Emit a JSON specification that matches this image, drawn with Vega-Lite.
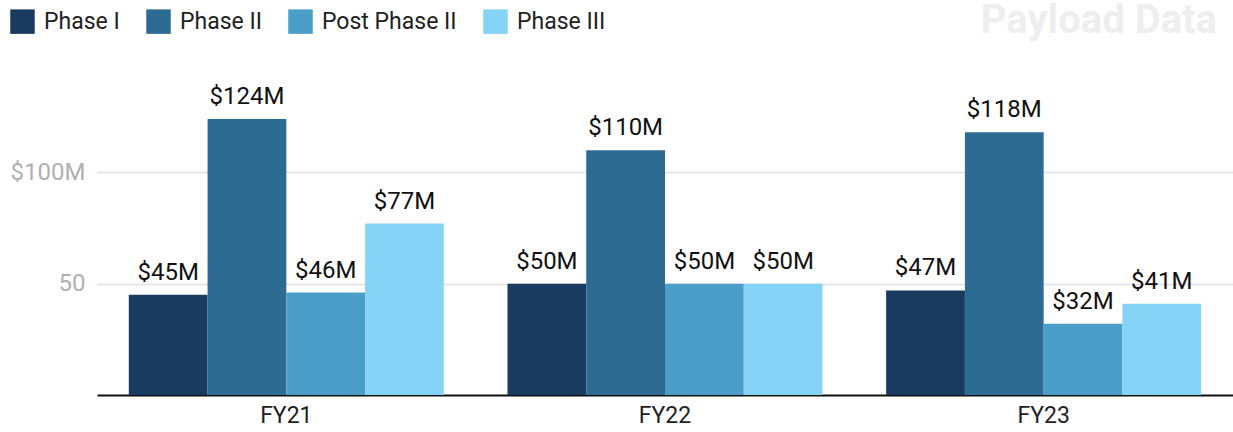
{
  "$schema": "https://vega.github.io/schema/vega-lite/v6.json",
  "autosize": {"type": "none"},
  "width": 1136,
  "height": 325,
  "padding": {"left": 97, "top": 70, "right": 0, "bottom": 37},
  "background": "white",
  "title": {
    "text": "Payload Data",
    "anchor": "end",
    "font": "Roboto",
    "fontSize": 40,
    "fontWeight": "bold",
    "color": "#eeeeee",
    "offset": 0,
    "dy": 32,
    "dx": -16
  },
  "config": {
    "font": "Roboto",
    "view": {"stroke": null}
  },
  "data": {
    "values": [
      {"year": "FY21", "phase": "Phase I", "value": 45, "label": "$45M"},
      {"year": "FY21", "phase": "Phase II", "value": 124, "label": "$124M"},
      {"year": "FY21", "phase": "Post Phase II", "value": 46, "label": "$46M"},
      {"year": "FY21", "phase": "Phase III", "value": 77, "label": "$77M"},
      {"year": "FY22", "phase": "Phase I", "value": 50, "label": "$50M"},
      {"year": "FY22", "phase": "Phase II", "value": 110, "label": "$110M"},
      {"year": "FY22", "phase": "Post Phase II", "value": 50, "label": "$50M"},
      {"year": "FY22", "phase": "Phase III", "value": 50, "label": "$50M"},
      {"year": "FY23", "phase": "Phase I", "value": 47, "label": "$47M"},
      {"year": "FY23", "phase": "Phase II", "value": 118, "label": "$118M"},
      {"year": "FY23", "phase": "Post Phase II", "value": 32, "label": "$32M"},
      {"year": "FY23", "phase": "Phase III", "value": 41, "label": "$41M"}
    ]
  },
  "encoding": {
    "x": {
      "field": "year",
      "type": "nominal",
      "scale": {"paddingInner": 0.168, "paddingOuter": 0.084},
      "axis": {
        "title": null,
        "labelAngle": 0,
        "labelFontSize": 23,
        "labelColor": "#222222",
        "labelPadding": 9,
        "ticks": false,
        "domainColor": "#111111",
        "domainWidth": 2
      }
    },
    "xOffset": {
      "field": "phase",
      "type": "nominal",
      "sort": ["Phase I", "Phase II", "Post Phase II", "Phase III"],
      "scale": {"paddingInner": 0, "paddingOuter": 0}
    },
    "y": {
      "field": "value",
      "type": "quantitative",
      "scale": {"domain": [0, 146], "nice": false},
      "axis": {
        "title": null,
        "values": [50, 100],
        "labelExpr": "datum.value == 100 ? '$100M' : datum.label",
        "labelFontSize": 24,
        "labelColor": "#b0b0b0",
        "labelPadding": 12,
        "ticks": false,
        "domain": false,
        "gridColor": "#e6e6e6",
        "gridWidth": 2
      }
    }
  },
  "layer": [
    {
      "mark": {"type": "bar"},
      "encoding": {
        "color": {
          "field": "phase",
          "type": "nominal",
          "sort": ["Phase I", "Phase II", "Post Phase II", "Phase III"],
          "scale": {
            "domain": ["Phase I", "Phase II", "Post Phase II", "Phase III"],
            "range": ["#1a3b60", "#2e6b93", "#4a9ec8", "#86d3f8"]
          },
          "legend": {
            "title": null,
            "orient": "none",
            "direction": "horizontal",
            "legendX": -87,
            "legendY": -61,
            "symbolType": "square",
            "symbolSize": 600,
            "symbolStrokeWidth": 0,
            "symbolOpacity": 1,
            "labelFontSize": 23,
            "labelColor": "#222222",
            "labelOffset": 9,
            "columnPadding": 26
          }
        }
      }
    },
    {
      "mark": {"type": "text", "baseline": "alphabetic", "dy": -15, "fontSize": 24, "color": "#111111"},
      "encoding": {
        "text": {"field": "label", "type": "nominal"},
        "detail": {"field": "phase"}
      }
    }
  ]
}
